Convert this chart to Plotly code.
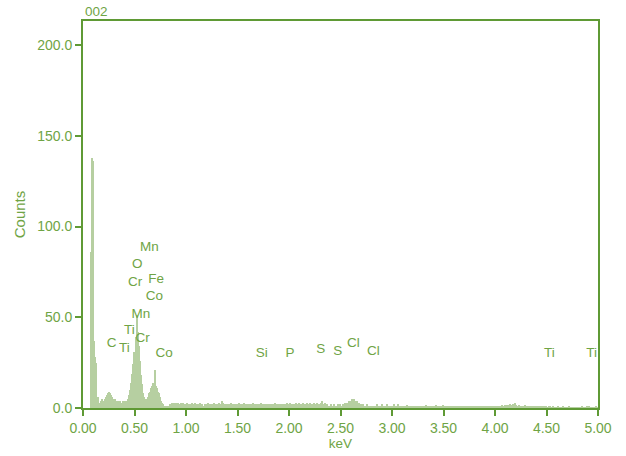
import plotly.graph_objects as go

# Channel width (keV) and start energy of the spectrum
bin_kev = 0.01
start_kev = 0.0

# Counts per 0.01 keV channel, 0.00 .. 4.99 keV
counts = [
    # 0.00-0.19
    0, 0, 0, 0, 0, 0, 0, 0, 86, 138, 136, 37, 28, 25, 5, 6, 3, 4, 5, 4,
    # 0.20-0.39
    3, 5, 6, 7, 8, 9, 8, 7, 6, 5, 4, 5, 4, 3, 4, 3, 4, 3, 3, 4,
    # 0.40-0.59
    3, 4, 3, 4, 5, 7, 10, 14, 19, 24, 31, 39, 51, 42, 34, 26, 18, 13, 8, 6,
    # 0.60-0.79
    5, 4, 5, 6, 8, 9, 11, 12, 14, 13, 21, 12, 11, 9, 8, 6, 4, 3, 2, 1,
    # 0.80-0.99
    1, 1, 1, 1, 2, 1, 3, 2, 3, 2, 3, 2, 3, 2, 2, 3, 2, 3, 2, 2,
    # 1.00-1.19
    2, 3, 2, 2, 1, 2, 3, 2, 2, 3, 2, 1, 2, 2, 3, 2, 2, 1, 2, 2,
    # 1.20-1.39
    2, 3, 2, 2, 1, 2, 2, 3, 2, 2, 1, 2, 3, 2, 2, 4, 3, 2, 2, 1,
    # 1.40-1.59
    2, 2, 1, 2, 3, 2, 2, 1, 2, 2, 2, 3, 2, 1, 2, 2, 3, 2, 2, 1,
    # 1.60-1.79
    2, 1, 2, 2, 2, 3, 2, 1, 2, 2, 2, 1, 2, 3, 2, 2, 1, 2, 2, 1,
    # 1.80-1.99
    2, 2, 1, 2, 2, 1, 3, 2, 1, 2, 1, 2, 2, 1, 2, 2, 1, 2, 3, 2,
    # 2.00-2.19
    2, 3, 2, 2, 1, 2, 2, 3, 2, 2, 3, 2, 2, 2, 3, 2, 2, 3, 2, 2,
    # 2.20-2.39
    3, 2, 2, 2, 3, 2, 2, 3, 2, 2, 2, 3, 4, 2, 2, 3, 1, 2, 1, 1,
    # 2.40-2.59
    1, 2, 1, 1, 2, 1, 1, 1, 2, 1, 2, 1, 2, 2, 3, 3, 2, 3, 4, 3,
    # 2.60-2.79
    4, 5, 4, 5, 4, 3, 4, 3, 3, 2, 2, 1, 2, 1, 1, 1, 2, 1, 1, 1,
    # 2.80-2.99
    1, 1, 1, 1, 1, 2, 1, 1, 1, 1, 2, 1, 1, 1, 1, 2, 1, 1, 1, 1,
    # 3.00-3.19
    1, 1, 2, 1, 1, 1, 2, 1, 1, 1, 1, 1, 1, 1, 1, 1.5, 1, 1, 1, 1,
    # 3.20-3.39
    1, 1, 1, 1, 1, 1, 1, 1, 1, 1, 1, 1, 1, 1.5, 1, 1, 1, 1, 1, 1,
    # 3.40-3.59
    1, 1, 1, 1.5, 1, 1, 1, 1, 1, 1, 1.5, 1, 1, 1, 1, 1, 1, 1, 1, 1,
    # 3.60-3.79
    1, 1, 1, 1, 1, 0.5, 1, 1, 1, 1, 1, 1, 0.5, 1, 1, 1, 1, 1, 1, 1,
    # 3.80-3.99
    1, 1, 1, 1, 1, 1, 1, 1, 0.5, 1, 1, 1, 1, 1, 1, 1, 1, 1, 0.5, 1,
    # 4.00-4.19
    1, 1, 1, 1, 1, 1, 1, 1.5, 1, 1, 1.5, 1, 1.5, 1, 1.5, 2, 1.5, 2, 2, 2.5,
    # 4.20-4.39
    1.5, 1, 1, 1.5, 1, 1, 1, 1, 1, 1.5, 1, 1, 1, 1, 0.5, 1, 1, 1, 1, 1,
    # 4.40-4.59
    1, 0.5, 1, 1, 1, 0.5, 1, 1, 0.5, 1, 1, 0.5, 1, 1, 0.5, 0.5, 1, 0.5, 0.5, 0.5,
    # 4.60-4.79
    0.5, 1, 0.5, 0.5, 0.5, 0.5, 1, 0.5, 0.5, 0.5, 0.5, 0.5, 1, 0.5, 0.5, 0.5, 0.5, 0.5, 0.5, 0.5,
    # 4.80-4.99
    0.5, 0.5, 0.5, 0.5, 1, 0.5, 0.5, 0.5, 0.5, 1, 0.5, 1, 0.5, 0.5, 0.5, 0.5, 0.5, 0.5, 1, 0.5,
]

# Element peak labels: name, energy position (keV), height (counts)
label_text = ["Mn", "O", "Fe", "Cr", "Co", "Mn", "Ti", "Cr", "C", "Ti", "Co",
              "Si", "P", "S", "S", "Cl", "Cl", "Ti", "Ti"]
label_kev = [0.644, 0.527, 0.709, 0.505, 0.692, 0.563, 0.450, 0.580, 0.279, 0.401, 0.787,
             1.735, 2.010, 2.308, 2.473, 2.625, 2.819, 4.527, 4.939]
label_counts = [88.5, 79.0, 71.0, 69.0, 61.2, 51.5, 42.5, 38.5, 35.3, 32.5, 29.8,
                30.0, 30.0, 32.0, 30.8, 35.3, 30.8, 30.0, 30.0]

x_ticks = [0.0, 0.5, 1.0, 1.5, 2.0, 2.5, 3.0, 3.5, 4.0, 4.5, 5.0]
y_ticks = [0, 50, 100, 150, 200]

energy = [round(start_kev + i * bin_kev, 2) for i in range(len(counts))]

axis_col = "#5f9a35"
text_col = "#6fa445"
bar_col = "#b6cfa1"
font_fam = "Liberation Sans, Arial, sans-serif"

fig = go.Figure()
fig.add_trace(go.Bar(
    x=energy, y=counts, width=bin_kev,
    marker=dict(color=bar_col, line=dict(width=0)),
    hoverinfo="x+y",
))
fig.add_trace(go.Scatter(
    x=label_kev, y=label_counts, mode="text", text=label_text,
    textposition="middle center",
    textfont=dict(family=font_fam, size=13.5, color=text_col),
    hoverinfo="skip",
))

fig.update_layout(
    width=626, height=456,
    margin=dict(l=83, r=28, t=21, b=48, autoexpand=False),
    paper_bgcolor="white", plot_bgcolor="white",
    showlegend=False, bargap=0,
    font=dict(family=font_fam, size=14, color=text_col),
    annotations=[dict(
        text="002", xref="paper", yref="paper", x=0, y=1,
        xanchor="left", yanchor="bottom", yshift=0, showarrow=False,
        font=dict(family=font_fam, size=13.5, color=text_col),
    )],
)
fig.update_xaxes(
    range=[0, 5], tickvals=x_ticks, tickformat=".2f", automargin=False,
    showgrid=False, zeroline=False,
    showline=True, linecolor=axis_col, linewidth=2, mirror=True,
    ticks="outside", ticklen=6, tickwidth=2, tickcolor=axis_col,
    tickfont=dict(family=font_fam, size=14, color=text_col),
    title=dict(text="keV", standoff=3, font=dict(family=font_fam, size=13.5, color=text_col)),
)
fig.update_yaxes(
    range=[0, 213.3], tickvals=y_ticks, tickformat=".1f", automargin=False,
    showgrid=False, zeroline=False,
    showline=True, linecolor=axis_col, linewidth=2, mirror=True,
    ticks="outside", ticklen=6, tickwidth=2, tickcolor=axis_col,
    tickfont=dict(family=font_fam, size=14, color=text_col),
    title=dict(text="Counts", standoff=8, font=dict(family=font_fam, size=15, color=text_col)),
)

fig.write_html("out.html", config={"displayModeBar": False},
               post_script="document.body.style.margin='0px';")
